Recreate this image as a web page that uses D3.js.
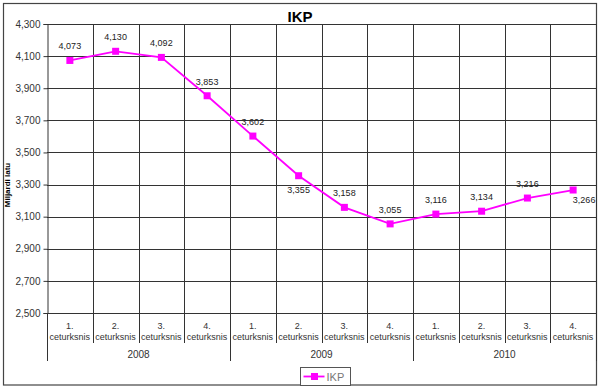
<!DOCTYPE html>
<head>
<meta charset="utf-8">
<script src="https://d3js.org/d3.v7.min.js"></script>
<style>
  body { margin: 0; background: #fff; }
  text { font-family: "Liberation Sans", Arial, sans-serif; fill: #222; }
  text.title { font-size: 15px; font-weight: 700; fill: #000; }
  text.yTitle { font-size: 8px; font-weight: 700; fill: #000; }
  .yAxis text { font-size: 10px; fill: #333; }
  text.cat { font-size: 9px; fill: #333; }
  text.year { font-size: 10px; fill: #333; }
  text.valueLabel { font-size: 9px; fill: #222; }
  text.legendText { font-size: 11px; fill: #777; }
</style>
<title>IKP</title>
</head>
<body>
<script>
const width = 600, height = 389;

// data
const years = ['2008', '2009', '2010'];
const quarters = ['1.', '2.', '3.', '4.'];
const ikpValues = [4073, 4130, 4092, 3853, 3602, 3355, 3158, 3055, 3116, 3134, 3216, 3266];
const yTicks = [2500, 2700, 2900, 3100, 3300, 3500, 3700, 3900, 4100, 4300];

const cats = [];
years.forEach(y => quarters.forEach(q => cats.push(y + '-' + q)));

const margin = {top: 24, right: 4, bottom: 76, left: 47};

const svg = d3.select('body').append('svg')
  .attr('width', width)
  .attr('height', height);

// outer frame
svg.append('rect')
  .attr('x', 3.5).attr('y', 3.5)
  .attr('width', 593).attr('height', 381.5)
  .attr('fill', '#fff')
  .attr('stroke', '#444')
  .attr('stroke-width', 1.2);

const x = d3.scaleBand()
  .domain(cats)
  .range([margin.left, width - margin.right])
  .padding(0);

const y = d3.scaleLinear()
  .domain([2500, 4300])
  .range([height - margin.bottom, margin.top]);

// horizontal grid
svg.append('g')
  .selectAll('line')
  .data(yTicks)
  .join('line')
  .attr('x1', margin.left).attr('x2', width - margin.right)
  .attr('y1', d => Math.round(y(d)) + 0.5).attr('y2', d => Math.round(y(d)) + 0.5)
  .attr('stroke', '#333')
  .attr('stroke-width', 1);

// vertical grid (category boundaries)
svg.append('g')
  .selectAll('line')
  .data(cats.slice(1).concat(['end']))
  .join('line')
  .attr('x1', d => Math.round(d === 'end' ? width - margin.right : x(d)) + 0.5)
  .attr('x2', d => Math.round(d === 'end' ? width - margin.right : x(d)) + 0.5)
  .attr('y1', margin.top)
  .attr('y2', y(2500))
  .attr('stroke', '#333');

// y axis
const yAxis = d3.axisLeft(y)
  .tickValues(yTicks)
  .tickSize(4)
  .tickPadding(3)
  .tickFormat(d3.format(','));

const gy = svg.append('g')
  .attr('class', 'yAxis')
  .attr('transform', `translate(${margin.left + 0.5},0)`)
  .call(yAxis);
gy.select('.domain').attr('stroke', '#333');
gy.selectAll('.tick line').attr('stroke', '#333');

svg.append('text')
  .attr('class', 'yTitle')
  .attr('transform', 'translate(10,185) rotate(-90)')
  .style('text-anchor', 'middle')
  .text('Miljardi latu');

// category axis: quarter labels + separators
const base = y(2500);
const catG = svg.append('g');
cats.forEach((c, i) => {
  const cx = x(c) + x.bandwidth() / 2;
  const q = c.split('-')[1];
  catG.append('text')
    .attr('class', 'cat')
    .attr('x', cx).attr('y', base + 16)
    .style('text-anchor', 'middle')
    .text(q);
  catG.append('text')
    .attr('class', 'cat')
    .attr('x', cx).attr('y', base + 27)
    .style('text-anchor', 'middle')
    .text('ceturksnis');
});

// separators between quarters (short) and years (long)
const sepX = cats.map(c => x(c)).concat([width - margin.right]);
sepX.forEach((sx, i) => {
  const isYear = i % quarters.length === 0;
  catG.append('line')
    .attr('x1', Math.round(sx) + 0.5).attr('x2', Math.round(sx) + 0.5)
    .attr('y1', base)
    .attr('y2', isYear ? base + 48 : base + 30)
    .attr('stroke', '#333');
});

years.forEach((yr, i) => {
  const x0 = x(yr + '-' + quarters[0]);
  const x1 = x(yr + '-' + quarters[quarters.length - 1]) + x.bandwidth();
  catG.append('text')
    .attr('class', 'year')
    .attr('x', (x0 + x1) / 2).attr('y', base + 45)
    .style('text-anchor', 'middle')
    .text(yr);
});

// title
svg.append('text')
  .attr('class', 'title')
  .attr('x', 300).attr('y', 22)
  .style('text-anchor', 'middle')
  .text('IKP');

// series
const pts = ikpValues.map((v, i) => ({cat: cats[i], value: v, i: i}));
const cxOf = d => x(d.cat) + x.bandwidth() / 2;

svg.append('path')
  .datum(pts)
  .attr('fill', 'none')
  .attr('stroke', '#ff00ff')
  .attr('stroke-width', 1.8)
  .attr('d', d3.line().x(cxOf).y(d => y(d.value)));

svg.selectAll('rect.marker')
  .data(pts)
  .join('rect')
  .attr('class', 'marker')
  .attr('x', d => cxOf(d) - 3.5)
  .attr('y', d => y(d.value) - 3.5)
  .attr('width', 7).attr('height', 7)
  .attr('fill', '#ff00ff');

// value labels: above, except where the line would cover them
const fmt = d3.format(',');
svg.selectAll('text.valueLabel')
  .data(pts)
  .join('text')
  .attr('class', 'valueLabel')
  .attr('x', d => d.i === pts.length - 1 ? cxOf(d) + 11 : cxOf(d))
  .attr('y', d => {
    if (d.i === 5) return y(d.value) + 17;
    if (d.i === pts.length - 1) return y(d.value) + 13;
    return y(d.value) - 11;
  })
  .style('text-anchor', 'middle')
  .text(d => fmt(d.value));

// legend
const lg = svg.append('g').attr('transform', 'translate(300.5,367.5)');
lg.append('rect')
  .attr('width', 50).attr('height', 18)
  .attr('fill', '#fff')
  .attr('stroke', '#555');
lg.append('line')
  .attr('x1', 3).attr('x2', 24).attr('y1', 9).attr('y2', 9)
  .attr('stroke', '#ff00ff').attr('stroke-width', 1.8);
lg.append('rect')
  .attr('x', 10.5).attr('y', 5.5).attr('width', 7).attr('height', 7)
  .attr('fill', '#ff00ff');
lg.append('text')
  .attr('class', 'legendText')
  .attr('x', 26).attr('y', 13)
  .text('IKP');
</script>
</body>
